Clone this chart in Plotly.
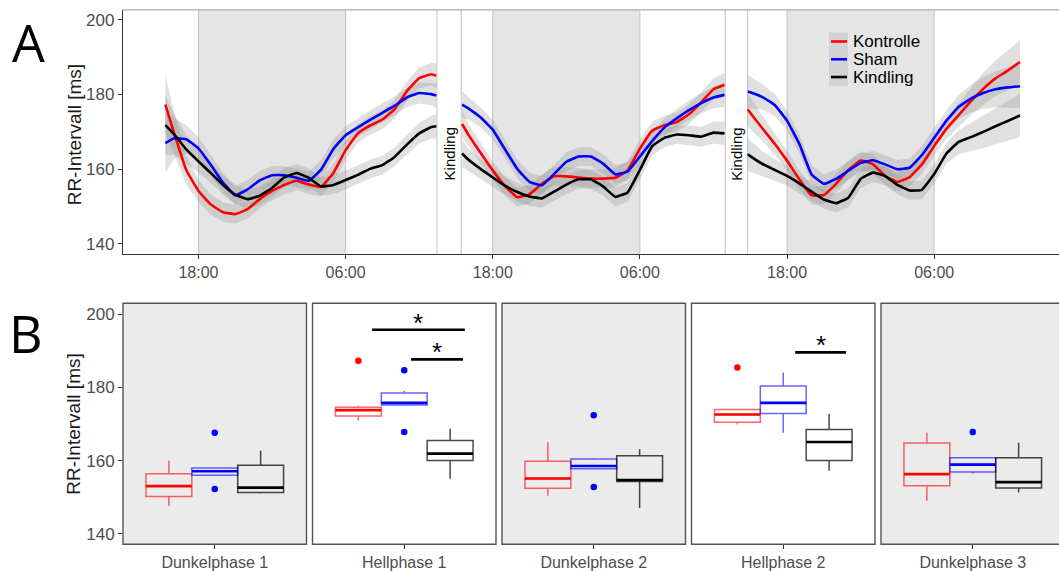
import plotly.graph_objects as go

W, H = 1059, 571
FONT = "Liberation Sans"
TICK_GRAY = "#4d4d4d"

groups = ["Kontrolle", "Sham", "Kindling"]
group_colors = ["#ff0000", "#0000ff", "#000000"]
box_edge_colors = ["rgba(255,0,0,0.6)", "rgba(0,0,255,0.6)", "rgba(0,0,0,0.72)"]
ribbon_fill = "rgba(140,140,140,0.27)"

# ---------------- Panel A: smoothed RR interval over time (hours from day-1 00:00)
seg1_hours = [15.3, 16, 17, 18, 19, 20, 21, 22, 23, 24, 25, 26, 27, 28, 29, 30,
              31, 32, 33, 34, 35, 36, 37, 37.4]
seg1_kontrolle = [177.3, 169.8, 159.8, 154.2, 150.6, 148.5, 148.0, 149.3, 152.0, 154.2,
                  155.8, 156.9, 155.9, 155.3, 159.0, 165.1, 169.6, 171.7, 173.3, 176.1,
                  180.9, 184.4, 185.4, 185.0]
seg1_sham = [167.0, 168.3, 168.0, 165.6, 161.2, 156.4, 153.0, 154.6, 157.0, 158.4,
             158.4, 157.7, 156.9, 159.9, 165.4, 169.1, 171.2, 173.2, 175.1, 177.0,
             179.2, 180.4, 180.1, 179.7]
seg1_kindling = [171.8, 169.4, 165.3, 162.1, 159.0, 155.8, 153.2, 152.0, 152.9, 155.0,
                 157.8, 159.0, 157.7, 155.4, 155.8, 157.1, 158.5, 160.1, 161.1, 163.3,
                 166.6, 169.6, 171.3, 171.5]
seg1_ci = [8.0, 5.5, 3.8, 3.0, 2.7, 2.6, 2.5, 2.5, 2.5, 2.5, 2.5, 2.5, 2.5, 2.5, 2.5,
           2.5, 2.5, 2.5, 2.5, 2.5, 2.6, 2.8, 3.0, 3.3]

seg2_hours = [39.5, 40, 41, 42, 43, 44, 45, 46, 47, 48, 49, 50, 51, 52, 53, 54, 55,
              56, 57, 58, 59, 60, 60.9]
seg2_kontrolle = [172.1, 169.3, 164.4, 159.7, 155.5, 152.5, 153.3, 156.1, 158.1, 158.1,
                  157.8, 157.5, 157.5, 157.7, 159.7, 165.5, 170.3, 171.8, 172.6, 174.7,
                  177.9, 181.4, 182.6]
seg2_sham = [177.3, 176.3, 173.9, 170.6, 165.3, 160.1, 156.6, 155.7, 158.7, 162.0,
             163.4, 163.4, 161.5, 158.6, 159.4, 163.4, 167.5, 171.2, 173.6, 175.8,
             177.7, 179.2, 179.9]
seg2_kindling = [164.2, 162.6, 160.1, 157.8, 155.6, 153.9, 152.7, 152.2, 154.0, 155.9,
                 157.3, 157.3, 155.4, 152.6, 153.8, 159.8, 166.2, 168.4, 169.3, 169.1,
                 168.7, 169.8, 169.6]
seg2_ci = [3.6, 3.0, 2.7, 2.5, 2.5, 2.5, 2.5, 2.5, 2.5, 2.5, 2.5, 2.5, 2.5, 2.5, 2.5,
           2.5, 2.5, 2.5, 2.5, 2.6, 2.7, 2.9, 3.2]

seg3_hours = [62.8, 63, 64, 65, 66, 67, 68, 69, 70, 71, 72, 73, 74, 75, 76, 77, 78,
              79, 80, 81, 82, 83, 84, 85]
seg3_kontrolle = [176.0, 175.1, 170.9, 166.8, 162.3, 157.3, 153.0, 153.1, 156.1, 159.8,
                  162.3, 161.4, 158.2, 156.6, 157.9, 161.3, 166.2, 170.8, 174.5, 178.2,
                  181.5, 184.3, 186.4, 188.7]
seg3_sham = [180.8, 180.6, 179.3, 177.2, 173.0, 166.8, 158.6, 156.1, 157.4, 159.6,
             161.7, 162.4, 161.3, 160.0, 160.4, 163.8, 168.4, 173.0, 176.7, 178.9,
             180.4, 181.4, 181.9, 182.2]
seg3_kindling = [164.0, 163.5, 161.4, 159.8, 158.2, 156.2, 154.0, 151.9, 150.9, 152.4,
                 157.4, 159.1, 158.2, 155.8, 154.3, 154.5, 158.7, 164.2, 167.3, 168.6,
                 170.0, 171.5, 172.9, 174.4]
seg3_ci = [4.5, 4.2, 3.4, 2.9, 2.6, 2.5, 2.5, 2.5, 2.5, 2.5, 2.5, 2.5, 2.5, 2.5, 2.5,
           2.5, 2.6, 2.8, 3.2, 3.7, 4.3, 4.8, 5.3, 5.8]

segments = [
    (seg1_hours, [seg1_kontrolle, seg1_sham, seg1_kindling], seg1_ci),
    (seg2_hours, [seg2_kontrolle, seg2_sham, seg2_kindling], seg2_ci),
    (seg3_hours, [seg3_kontrolle, seg3_sham, seg3_kindling], seg3_ci),
]

dark_phase_start = [18, 42, 66]
dark_phase_end = [30, 54, 78]
kindling_start = [37.45, 60.96]
kindling_end = [39.43, 62.79]
time_ticks = [18, 30, 42, 54, 66, 78]
time_labels = ["18:00", "06:00", "18:00", "06:00", "18:00", "06:00"]

# ---------------- Panel B: box plots per light/dark phase
phases = ["Dunkelphase 1", "Hellphase 1", "Dunkelphase 2", "Hellphase 2", "Dunkelphase 3"]
phase_is_dark = [True, False, True, False, True]

kontrolle_low = [147.6, 171.0, 150.4, 169.9, 149.0]
kontrolle_q1 = [150.2, 172.2, 152.4, 170.5, 153.1]
kontrolle_med = [153.0, 173.8, 155.1, 172.6, 156.3]
kontrolle_q3 = [156.4, 174.6, 159.8, 174.0, 164.8]
kontrolle_high = [160.0, 175.0, 165.0, 174.0, 167.6]

sham_low = [156.0, 175.2, 157.8, 167.6, 156.5]
sham_q1 = [156.0, 175.2, 157.8, 172.9, 156.9]
sham_med = [157.1, 175.8, 158.5, 175.8, 158.9]
sham_q3 = [158.0, 178.5, 160.4, 180.4, 160.8]
sham_high = [158.0, 179.1, 160.7, 184.1, 160.8]

kindling_low = [151.0, 155.0, 147.0, 157.2, 151.3]
kindling_q1 = [151.3, 160.0, 154.3, 160.0, 152.5]
kindling_med = [152.6, 161.9, 154.7, 165.1, 154.1]
kindling_q3 = [158.7, 165.5, 161.3, 168.5, 160.8]
kindling_high = [162.7, 168.7, 163.1, 172.8, 164.9]

box_stats = [
    (kontrolle_low, kontrolle_q1, kontrolle_med, kontrolle_q3, kontrolle_high),
    (sham_low, sham_q1, sham_med, sham_q3, sham_high),
    (kindling_low, kindling_q1, kindling_med, kindling_q3, kindling_high),
]

outlier_group = [1, 1, 0, 1, 1, 1, 1, 0, 1]
outlier_phase = [0, 0, 1, 1, 1, 2, 2, 3, 4]
outlier_value = [167.6, 152.2, 187.3, 184.7, 167.8, 172.4, 152.8, 185.5, 167.8]

# significance brackets (phase index, start/end in group units, height)
sig_phase = [1, 1, 3]
sig_x0 = [-0.70, 0.15, 0.26]
sig_x1 = [1.32, 1.28, 1.37]
sig_y = [195.8, 187.7, 189.6]
sig_label = ["*", "*", "*"]


def pxx(p):
    return p / W


def pxy(p):
    return 1 - p / H


fig = go.Figure()
shapes = []
annotations = []

# ---- Panel A traces
for hours, series, ci in segments:
    for vals in series:
        upper = [v + c for v, c in zip(vals, ci)]
        lower = [v - c for v, c in zip(vals, ci)]
        fig.add_trace(go.Scatter(
            x=hours + hours[::-1], y=upper + lower[::-1], fill="toself",
            fillcolor=ribbon_fill, line=dict(width=0), mode="lines",
            hoverinfo="skip", showlegend=False, xaxis="x", yaxis="y"))
for hours, series, ci in segments:
    for gi, vals in enumerate(series):
        fig.add_trace(go.Scatter(
            x=hours, y=vals, mode="lines", name=groups[gi],
            line=dict(color=group_colors[gi], width=2.6, shape="spline", smoothing=0.3),
            showlegend=False, xaxis="x", yaxis="y"))

for s, e in zip(dark_phase_start, dark_phase_end):
    shapes.append(dict(type="rect", xref="x", yref="y domain", x0=s, x1=e, y0=0, y1=1,
                       fillcolor="#e5e5e5", line=dict(width=0), layer="below"))
    for xv in (s, e):
        shapes.append(dict(type="line", xref="x", yref="y domain", x0=xv, x1=xv, y0=0, y1=1,
                           line=dict(color="#c2c2c2", width=1), layer="below"))
for s, e in zip(kindling_start, kindling_end):
    for xv in (s, e):
        shapes.append(dict(type="line", xref="x", yref="y domain", x0=xv, x1=xv, y0=0, y1=1,
                           line=dict(color="#c2c2c2", width=1), layer="below"))
    annotations.append(dict(x=(s + e) / 2, y=164, xref="x", yref="y", text="Kindling",
                            showarrow=False, textangle=-90, xanchor="center",
                            yanchor="middle", font=dict(family=FONT, size=15, color="#000")))

# top border of panel A
shapes.append(dict(type="line", xref="paper", yref="paper", x0=pxx(123), x1=1,
                   y0=pxy(10), y1=pxy(10), line=dict(color="#a8a8a8", width=1.2)))

# legend for panel A
shapes.append(dict(type="rect", xref="paper", yref="paper", x0=pxx(829), x1=pxx(848),
                   y0=pxy(87), y1=pxy(33), fillcolor="#d3d3d3", line=dict(width=0)))
for gi, g in enumerate(groups):
    yy = 42 + 18 * gi
    shapes.append(dict(type="line", xref="paper", yref="paper", x0=pxx(831), x1=pxx(847),
                       y0=pxy(yy), y1=pxy(yy), line=dict(color=group_colors[gi], width=2.6)))
    annotations.append(dict(x=pxx(851), y=pxy(yy), xref="paper", yref="paper", text=g,
                            showarrow=False, xanchor="left", yanchor="middle",
                            font=dict(family=FONT, size=17, color="#000")))

# ---- Panel B traces
facet_left = [123, 312.5, 502, 691.5, 881]
facet_width = 183.5
box_pos = [-1, 0, 1]

layout_axes = {}
for fi, phase in enumerate(phases):
    n = fi + 2
    xa, ya = f"x{n}", f"y{n}"
    for gi in range(3):
        low, q1, med, q3, high = box_stats[gi]
        fig.add_trace(go.Box(
            x=[box_pos[gi]], q1=[q1[fi]], median=[med[fi]], q3=[q3[fi]],
            lowerfence=[low[fi]], upperfence=[high[fi]], width=1, boxpoints=False,
            fillcolor="rgba(0,0,0,0)", line=dict(color=box_edge_colors[gi], width=1.5),
            whiskerwidth=0, showlegend=False, hoverinfo="skip", xaxis=xa, yaxis=ya))
        fig.add_trace(go.Scatter(
            x=[box_pos[gi] - 0.5, box_pos[gi] + 0.5], y=[med[fi], med[fi]], mode="lines",
            line=dict(color=group_colors[gi], width=2.6), showlegend=False,
            hoverinfo="skip", xaxis=xa, yaxis=ya))
    ox = [box_pos[g] for g, p in zip(outlier_group, outlier_phase) if p == fi]
    oy = [v for v, p in zip(outlier_value, outlier_phase) if p == fi]
    oc = [group_colors[g] for g, p in zip(outlier_group, outlier_phase) if p == fi]
    if ox:
        fig.add_trace(go.Scatter(x=ox, y=oy, mode="markers",
                                 marker=dict(color=oc, size=6.5, line=dict(width=0)),
                                 showlegend=False, hoverinfo="skip", xaxis=xa, yaxis=ya))
    for si, sp in enumerate(sig_phase):
        if sp != fi:
            continue
        fig.add_trace(go.Scatter(x=[sig_x0[si], sig_x1[si]], y=[sig_y[si], sig_y[si]],
                                 mode="lines", line=dict(color="#000", width=2.6),
                                 showlegend=False, hoverinfo="skip", xaxis=xa, yaxis=ya))
        annotations.append(dict(x=(sig_x0[si] + sig_x1[si]) / 2, y=sig_y[si], xref=xa, yref=ya,
                                text=sig_label[si], showarrow=False, xanchor="center",
                                yanchor="bottom", yshift=-10,
                                font=dict(family=FONT, size=26, color="#000")))

    left = facet_left[fi]
    right = min(left + facet_width, W)
    xr = [-2, -2 + 4 * (right - left) / facet_width]
    layout_axes[f"xaxis{n}"] = dict(
        domain=[pxx(left), pxx(right)], range=xr, anchor=ya, showgrid=False,
        zeroline=False, showline=False, tickvals=[0], ticktext=[phase], ticks="outside",
        ticklen=4, tickcolor="#333", tickwidth=1.2,
        tickfont=dict(family=FONT, size=16, color=TICK_GRAY), fixedrange=True)
    layout_axes[f"yaxis{n}"] = dict(
        domain=[pxy(551), pxy(307)], range=[137.11, 203.05], anchor=xa, showgrid=False,
        zeroline=False, showline=False,
        tickvals=[140, 160, 180, 200] if fi == 0 else [],
        ticks="outside" if fi == 0 else "", ticklen=4, tickcolor="#333", tickwidth=1.2,
        showticklabels=(fi == 0), tickfont=dict(family=FONT, size=17, color=TICK_GRAY),
        fixedrange=True)
    if phase_is_dark[fi]:
        shapes.append(dict(type="rect", xref=f"{xa} domain", yref=f"{ya} domain",
                           x0=0, x1=1, y0=0, y1=1, fillcolor="#ebebeb",
                           line=dict(width=0), layer="below"))
    shapes.append(dict(type="rect", xref=f"{xa} domain", yref=f"{ya} domain",
                       x0=0, x1=1 if fi < 4 else 1.05, y0=0, y1=1, fillcolor="rgba(0,0,0,0)",
                       line=dict(color="#555", width=1.4), layer="above"))

# axis titles and panel letters
for yc in (137, 430):
    annotations.append(dict(x=pxx(74), y=pxy(yc), xref="paper", yref="paper",
                            text="RR-Intervall [ms]", showarrow=False, textangle=-90,
                            xanchor="center", yanchor="middle",
                            font=dict(family=FONT, size=19, color="#1a1a1a")))
annotations.append(dict(x=pxx(28), y=pxy(42), xref="paper", yref="paper", text="A",
                        showarrow=False, xanchor="center", yanchor="middle",
                        font=dict(family="Open Sans", size=52, color="#000")))
annotations.append(dict(x=pxx(26), y=pxy(337), xref="paper", yref="paper", text="B",
                        showarrow=False, xanchor="center", yanchor="middle",
                        font=dict(family="Open Sans", size=52, color="#000")))

fig.update_layout(
    width=W, height=H, autosize=False,
    margin=dict(l=0, r=0, t=0, b=0),
    paper_bgcolor="white", plot_bgcolor="white",
    showlegend=False,
    xaxis=dict(domain=[pxx(123), 1], range=[11.845, 88.18], anchor="y",
               showgrid=False, zeroline=False, showline=True, linecolor="#333", linewidth=1.3,
               tickvals=time_ticks, ticktext=time_labels, ticks="outside", ticklen=4,
               tickcolor="#333", tickwidth=1.2,
               tickfont=dict(family=FONT, size=16, color=TICK_GRAY), fixedrange=True),
    yaxis=dict(domain=[pxy(257), pxy(10)], range=[137.36, 202.64], anchor="x",
               showgrid=False, zeroline=False, showline=True, linecolor="#333", linewidth=1.3,
               tickvals=[140, 160, 180, 200], ticks="outside", ticklen=4, tickcolor="#333",
               tickwidth=1.2, tickfont=dict(family=FONT, size=17, color=TICK_GRAY),
               fixedrange=True),
    shapes=shapes,
    annotations=annotations,
    **layout_axes,
)

fig.write_html("out.html")
